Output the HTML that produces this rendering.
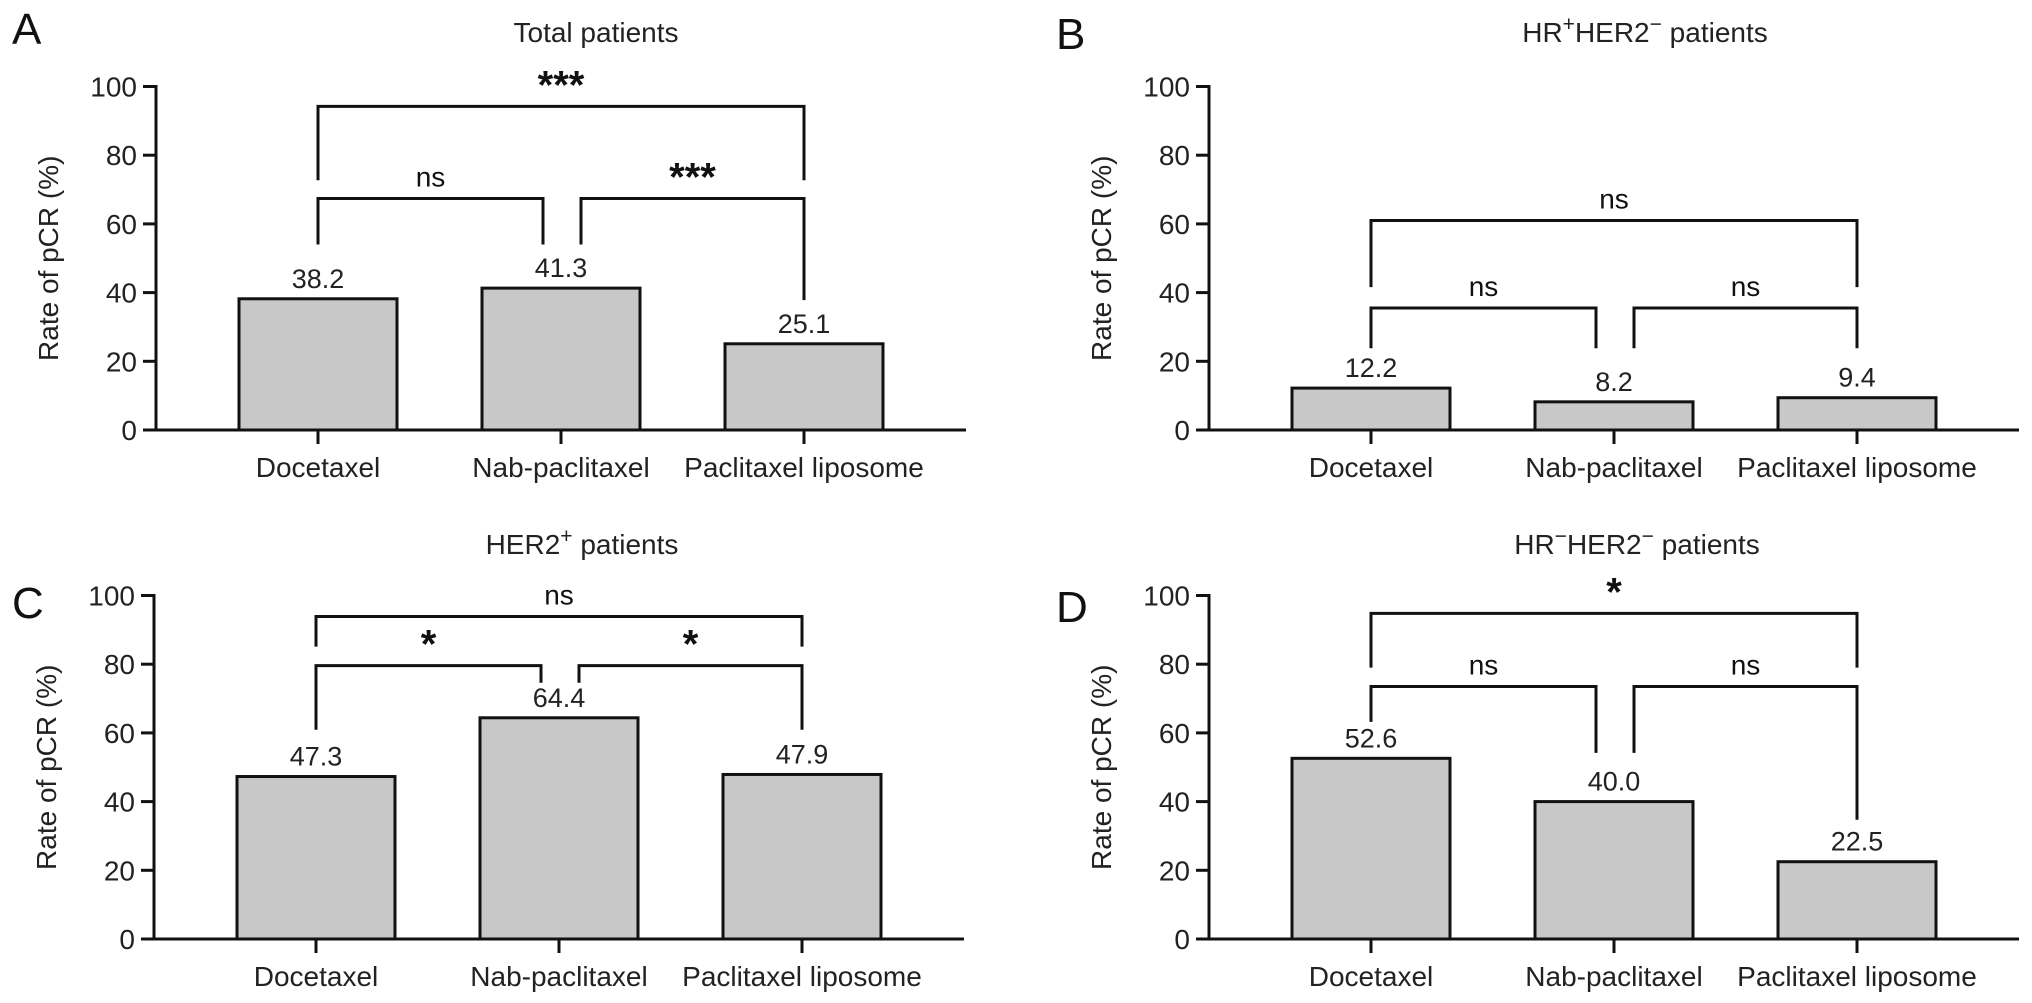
<!DOCTYPE html>
<html><head><meta charset="utf-8">
<style>
html,body{margin:0;padding:0;background:#fff;}
svg{display:block;font-family:"Liberation Sans",Arial,sans-serif;}
</style></head>
<body>
<svg id="fig" width="2032" height="1003" viewBox="0 0 2032 1003" xmlns="http://www.w3.org/2000/svg"></svg>
<script>
const categories = ["Docetaxel", "Nab-paclitaxel", "Paclitaxel liposome"];
const valuesA = [38.2, 41.3, 25.1];
const valuesB = [12.2, 8.2, 9.4];
const valuesC = [47.3, 64.4, 47.9];
const valuesD = [52.6, 40.0, 22.5];
const labelsA = ["38.2", "41.3", "25.1"];
const labelsB = ["12.2", "8.2", "9.4"];
const labelsC = ["47.3", "64.4", "47.9"];
const labelsD = ["52.6", "40.0", "22.5"];
const yTicks = [0, 20, 40, 60, 80, 100];
const yTickLabels = ["0", "20", "40", "60", "80", "100"];
// brackets: [fromIdx, toIdx, level, leftLegEnd, rightLegEnd, label] (values in %)
const bracketsA = [[0,1,67.4,54,54,"ns"],[1,2,67.4,54,37.8,"***"],[0,2,94.2,72.7,72.7,"***"]];
const bracketsB = [[0,1,35.5,23.8,23.8,"ns"],[1,2,35.5,23.8,23.8,"ns"],[0,2,61.0,41.6,41.6,"ns"]];
const bracketsC = [[0,1,79.6,60.9,74.6,"*"],[1,2,79.6,74.6,60.9,"*"],[0,2,93.9,85.1,85.1,"ns"]];
const bracketsD = [[0,1,73.5,63.2,54.2,"ns"],[1,2,73.5,54.2,34.7,"ns"],[0,2,94.8,79.0,79.0,"*"]];

const NS = "http://www.w3.org/2000/svg";
const svg = document.getElementById("fig");
function mk(tag, attrs, parent, text){
  const e = document.createElementNS(NS, tag);
  for (const k in attrs) e.setAttribute(k, attrs[k]);
  if (text !== undefined) e.textContent = text;
  (parent||svg).appendChild(e);
  return e;
}
const panels = [
  {id:"a", letter:"A", lx:12, ly:44, ox:156, y0:430, title:["Total patients"], tx:596, ty:42, vals:valuesA, labs:labelsA, br:bracketsA},
  {id:"b", letter:"B", lx:1056, ly:49, ox:1209, y0:430, title:["HR","+","HER2","−"," patients"], tx:1645, ty:42, vals:valuesB, labs:labelsB, br:bracketsB},
  {id:"c", letter:"C", lx:12, ly:618, ox:154, y0:939, title:["HER2","+"," patients"], tx:582, ty:554, vals:valuesC, labs:labelsC, br:bracketsC},
  {id:"d", letter:"D", lx:1056, ly:622, ox:1209, y0:939, title:["HR","−","HER2","−"," patients"], tx:1637, ty:554, vals:valuesD, labs:labelsD, br:bracketsD}
];
const SC = 3.435, BW = 158, SP = 243;
panels.forEach(p => {
  const g = mk("g", {});
  
  
  const y = v => p.y0 - v * SC;
  const xc = i => p.ox + 162 + SP * i;
  const L = mk("text", {x:p.lx, y:p.ly, "font-size":44, fill:"#111"}, g, p.letter);
  
  
  const T = mk("text", {x:p.tx, y:p.ty, "font-size":28, fill:"#222", "text-anchor":"middle"}, g);
  
  
  p.title.forEach(s => {
    const sup = (s === "+" || s === "−");
    mk("tspan", sup ? {"baseline-shift":"super","font-size":21} : {}, T, s);
  });
  p.vals.forEach((v, i) => {
    const r = mk("rect", {x:xc(i)-BW/2, y:y(v), width:BW, height:v*SC, fill:"#c8c8c8", stroke:"#111", "stroke-width":3}, g);
    
    
    const t = mk("text", {x:xc(i), y:y(v)-11, "font-size":27, fill:"#222", "text-anchor":"middle"}, g, p.labs[i]);
    
    
    mk("line", {x1:xc(i), x2:xc(i), y1:p.y0, y2:p.y0+14, stroke:"#111", "stroke-width":3}, g);
    const cl = mk("text", {x:xc(i), y:p.y0+47, "font-size":28, fill:"#222", "text-anchor":"middle"}, g, categories[i]);
    
    
  });
  const ya = mk("line", {x1:p.ox, x2:p.ox, y1:y(100)-1.5, y2:p.y0+1.5, stroke:"#111", "stroke-width":3}, g);
  
  
  const xa = mk("line", {x1:p.ox, x2:p.ox+810, y1:p.y0, y2:p.y0, stroke:"#111", "stroke-width":3}, g);
  
  
  yTicks.forEach((tv, k) => {
    mk("line", {x1:p.ox-13, x2:p.ox, y1:y(tv), y2:y(tv), stroke:"#111", "stroke-width":3}, g);
    const tl = mk("text", {x:p.ox-19, y:y(tv)+10, "font-size":28, fill:"#222", "text-anchor":"end"}, g, yTickLabels[k]);
    
    
  });
  const yt = mk("text", {x:0, y:0, "font-size":28, fill:"#222", "text-anchor":"middle", transform:`translate(${p.ox-98},${y(50)}) rotate(-90)`}, g, "Rate of pCR (%)");
  
  
  p.br.forEach((b, k) => {
    let x1 = xc(b[0]), x2 = xc(b[1]);
    if (b[1] - b[0] === 1) {
      if (b[0] === 0) x2 -= 18; else x1 += 20;
    }
    const ly = y(b[2]);
    const path = mk("path", {d:`M${x1},${y(b[3])} V${ly} H${x2} V${y(b[4])}`, fill:"none", stroke:"#111", "stroke-width":3}, g);
    
    
    const star = b[5].indexOf("*") >= 0;
    const st = mk("text", {x:(x1+x2)/2, y: star ? ly-8 : ly-12, "font-size": star ? 40 : 28, "font-weight": star ? "bold" : "normal", fill:"#111", "text-anchor":"middle"}, g, b[5]);
    
    
  });
});
</script>
</body></html>
